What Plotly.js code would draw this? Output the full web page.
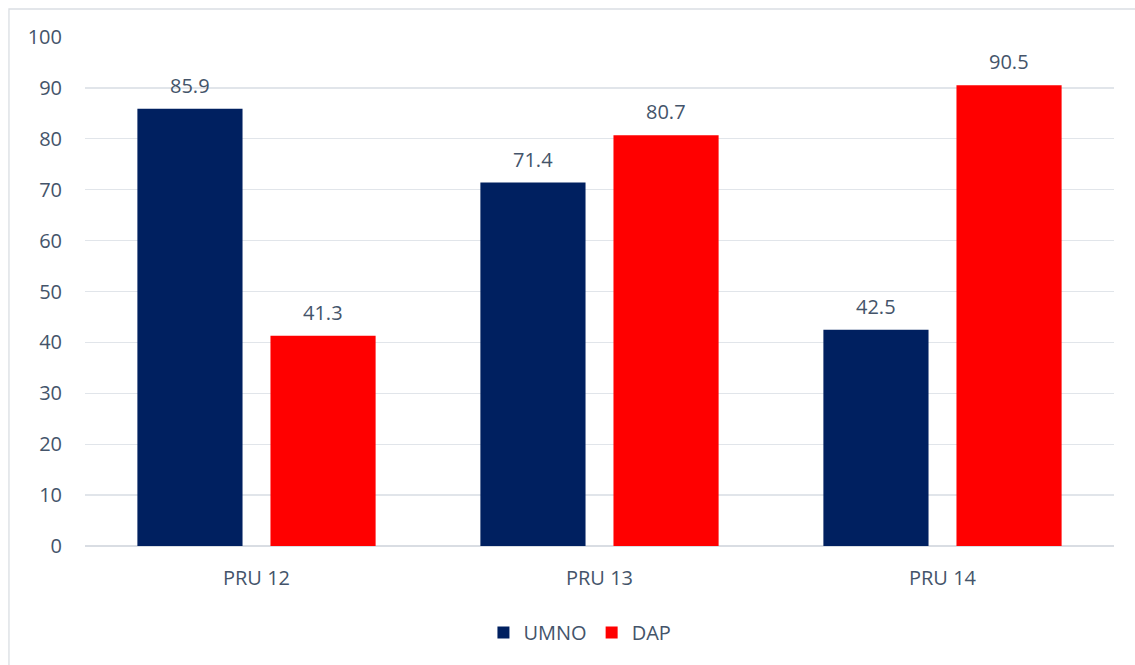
<!DOCTYPE html>
<html>
<head>
<meta charset="utf-8">
<script src="https://cdn.plot.ly/plotly-3.0.1.min.js"></script>
<style>html,body{margin:0;padding:0;background:#fff;}#chart{width:1135px;height:665px;}</style>
</head>
<body>
<div id="chart"></div>
<script>
const categories = ["PRU 12", "PRU 13", "PRU 14"];
const umno = [85.9, 71.4, 42.5];
const dap = [41.3, 80.7, 90.5];
const yTicks = [0, 10, 20, 30, 40, 50, 60, 70, 80, 90, 100];

const textColor = "#44546a";
const fontFam = "'Open Sans', 'Noto Sans', sans-serif";
const fs = 20;

const traces = [
  {type: "bar", name: "UMNO", x: categories, y: umno, marker: {color: "#002060"}, hoverinfo: "none"},
  {type: "bar", name: "DAP", x: categories, y: dap, marker: {color: "#ff0000"}, hoverinfo: "none"}
];

function labels(vals, shift) {
  return vals.map((v, i) => ({
    x: categories[i], y: v, xref: "x", yref: "y", text: v.toFixed(1),
    showarrow: false, xanchor: "center", yanchor: "bottom", xshift: shift, yshift: 8,
    font: {size: fs, color: textColor, family: fontFam}
  }));
}

const layout = {
  width: 1135, height: 665,
  margin: {l: 85, r: 21, t: 37, b: 119},
  paper_bgcolor: "#fff", plot_bgcolor: "#fff",
  font: {family: fontFam, color: textColor, size: fs},
  barmode: "group", bargap: 0.224, bargroupgap: 0.21,
  showlegend: true,
  legend: {orientation: "h", x: 0.481, xanchor: "center", y: -0.17, yanchor: "middle",
           font: {size: fs, color: textColor}, itemwidth: 30, traceorder: "normal"},
  xaxis: {type: "category", range: [-0.5, 2.5], showgrid: false, zeroline: false,
          showline: false, ticks: "", ticklabelstandoff: 18, tickfont: {size: fs}},
  yaxis: {range: [0, 100], tickvals: yTicks, ticktext: yTicks.map(String),
          showgrid: true, gridcolor: "#e1e5ea", gridwidth: 1.3,
          zeroline: true, zerolinecolor: "#d9dde3", zerolinewidth: 1.5,
          showline: false, ticks: "", ticklabelstandoff: 22, tickfont: {size: fs}},
  annotations: labels(umno, -66.5).concat(labels(dap, 66.5)),
  shapes: [{type: "rect", xref: "paper", yref: "paper",
            x0: -0.0739, x1: 1.03, y0: -0.3, y1: 1.055,
            line: {color: "#dadee3", width: 1.3}, fillcolor: "rgba(0,0,0,0)", layer: "below"}]
};

Plotly.newPlot("chart", traces, layout, {displayModeBar: false, staticPlot: true});
</script>
</body>
</html>
